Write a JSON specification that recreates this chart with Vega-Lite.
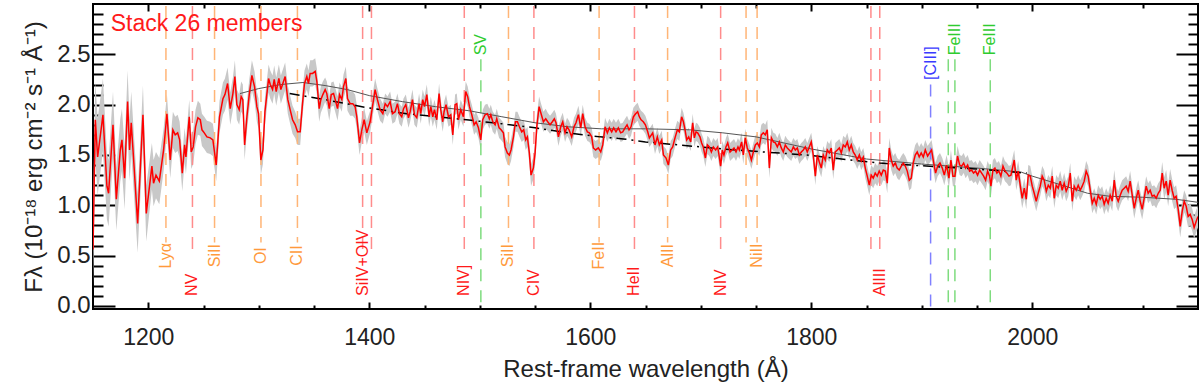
{
  "$schema": "https://vega.github.io/schema/vega-lite/v6.json",
  "width": 1105,
  "height": 305,
  "autosize": {"type": "none"},
  "padding": {"left": 93, "top": 4, "right": 2, "bottom": 73},
  "background": "white",
  "config": {"view": {"stroke": "#000", "strokeWidth": 2}, "axis": {"grid": false}},
  "resolve": {"axis": {"x": "independent", "y": "independent"}},
  "datasets": {
    "spec": [
      {"lam":1150.0,"f":0.56,"e":0.38},{"lam":1152.1,"f":1.85,"e":0.38},{"lam":1154.2,"f":1.48,"e":0.38},{"lam":1159.0,"f":1.90,"e":0.36},
      {"lam":1162.6,"f":1.19,"e":0.33},{"lam":1164.1,"f":1.12,"e":0.33},{"lam":1168.1,"f":1.80,"e":0.33},{"lam":1171.1,"f":1.06,"e":0.31},
      {"lam":1174.7,"f":1.55,"e":0.31},{"lam":1176.2,"f":1.65,"e":0.31},{"lam":1178.6,"f":1.27,"e":0.31},{"lam":1181.3,"f":2.03,"e":0.31},
      {"lam":1183.1,"f":1.55,"e":0.31},{"lam":1184.6,"f":1.82,"e":0.31},{"lam":1186.8,"f":1.45,"e":0.30},{"lam":1190.4,"f":0.82,"e":0.29},
      {"lam":1195.2,"f":1.90,"e":0.29},{"lam":1198.2,"f":0.92,"e":0.28},{"lam":1203.3,"f":1.39,"e":0.23},{"lam":1204.8,"f":1.22,"e":0.23},
      {"lam":1207.0,"f":1.30,"e":0.23},{"lam":1210.0,"f":1.24,"e":0.23},{"lam":1213.9,"f":1.55,"e":0.21},{"lam":1216.9,"f":1.91,"e":0.19},
      {"lam":1219.9,"f":1.45,"e":0.18},{"lam":1222.3,"f":1.75,"e":0.18},{"lam":1224.4,"f":1.70,"e":0.18},{"lam":1226.6,"f":1.72,"e":0.18},
      {"lam":1228.4,"f":1.65,"e":0.18},{"lam":1230.8,"f":1.32,"e":0.18},{"lam":1232.9,"f":1.60,"e":0.17},{"lam":1234.1,"f":1.48,"e":0.17},
      {"lam":1237.1,"f":1.88,"e":0.17},{"lam":1238.9,"f":1.53,"e":0.17},{"lam":1240.7,"f":1.58,"e":0.17},{"lam":1242.8,"f":1.78,"e":0.17},
      {"lam":1244.9,"f":1.87,"e":0.17},{"lam":1247.1,"f":1.85,"e":0.16},{"lam":1248.6,"f":1.75,"e":0.16},{"lam":1250.7,"f":1.72,"e":0.16},
      {"lam":1253.1,"f":1.68,"e":0.16},{"lam":1256.1,"f":1.67,"e":0.16},{"lam":1258.5,"f":1.65,"e":0.16},{"lam":1261.5,"f":1.40,"e":0.16},
      {"lam":1264.5,"f":1.88,"e":0.16},{"lam":1267.6,"f":2.06,"e":0.16},{"lam":1269.4,"f":2.10,"e":0.16},{"lam":1271.8,"f":2.21,"e":0.16},
      {"lam":1274.2,"f":1.96,"e":0.16},{"lam":1276.6,"f":2.11,"e":0.16},{"lam":1278.4,"f":2.28,"e":0.16},{"lam":1280.2,"f":2.00,"e":0.15},
      {"lam":1282.3,"f":1.95,"e":0.15},{"lam":1284.1,"f":2.08,"e":0.15},{"lam":1285.6,"f":2.05,"e":0.15},{"lam":1287.2,"f":1.60,"e":0.15},
      {"lam":1289.3,"f":1.88,"e":0.15},{"lam":1291.4,"f":2.10,"e":0.15},{"lam":1293.8,"f":2.29,"e":0.15},{"lam":1296.2,"f":2.18,"e":0.15},
      {"lam":1298.3,"f":1.98,"e":0.15},{"lam":1299.8,"f":1.91,"e":0.15},{"lam":1301.9,"f":1.45,"e":0.15},{"lam":1303.8,"f":1.55,"e":0.14},
      {"lam":1305.6,"f":1.93,"e":0.14},{"lam":1307.4,"f":2.11,"e":0.14},{"lam":1308.9,"f":2.26,"e":0.14},{"lam":1310.4,"f":2.20,"e":0.14},
      {"lam":1312.5,"f":2.15,"e":0.14},{"lam":1314.0,"f":2.25,"e":0.14},{"lam":1315.8,"f":2.13,"e":0.14},{"lam":1318.2,"f":2.26,"e":0.14},
      {"lam":1320.0,"f":2.15,"e":0.14},{"lam":1322.4,"f":2.23,"e":0.14},{"lam":1323.9,"f":2.28,"e":0.14},{"lam":1326.3,"f":2.05,"e":0.14},
      {"lam":1328.4,"f":1.95,"e":0.14},{"lam":1330.6,"f":1.85,"e":0.14},{"lam":1333.0,"f":1.80,"e":0.13},{"lam":1335.1,"f":1.73,"e":0.13},
      {"lam":1337.5,"f":1.73,"e":0.13},{"lam":1339.6,"f":2.01,"e":0.13},{"lam":1341.4,"f":2.21,"e":0.13},{"lam":1343.5,"f":2.28,"e":0.13},
      {"lam":1345.0,"f":2.21,"e":0.13},{"lam":1346.5,"f":2.31,"e":0.13},{"lam":1348.7,"f":2.31,"e":0.13},{"lam":1351.1,"f":2.33,"e":0.13},
      {"lam":1352.6,"f":2.23,"e":0.13},{"lam":1354.7,"f":1.96,"e":0.13},{"lam":1356.2,"f":2.05,"e":0.13},{"lam":1358.0,"f":2.10,"e":0.13},
      {"lam":1360.1,"f":2.15,"e":0.12},{"lam":1361.6,"f":2.11,"e":0.12},{"lam":1363.8,"f":1.96,"e":0.12},{"lam":1365.6,"f":2.10,"e":0.12},
      {"lam":1367.7,"f":2.11,"e":0.12},{"lam":1369.2,"f":2.05,"e":0.12},{"lam":1371.3,"f":1.96,"e":0.12},{"lam":1373.1,"f":2.10,"e":0.12},
      {"lam":1375.2,"f":2.05,"e":0.12},{"lam":1376.7,"f":2.18,"e":0.12},{"lam":1378.8,"f":2.26,"e":0.12},{"lam":1380.3,"f":2.06,"e":0.12},
      {"lam":1382.7,"f":2.01,"e":0.12},{"lam":1385.1,"f":2.01,"e":0.12},{"lam":1387.2,"f":1.98,"e":0.12},{"lam":1388.7,"f":1.88,"e":0.12},
      {"lam":1391.2,"f":1.62,"e":0.12},{"lam":1393.3,"f":1.75,"e":0.12},{"lam":1395.4,"f":1.85,"e":0.12},{"lam":1397.8,"f":1.72,"e":0.12},
      {"lam":1400.8,"f":1.83,"e":0.11},{"lam":1405.3,"f":2.15,"e":0.11},{"lam":1407.4,"f":2.05,"e":0.11},{"lam":1409.8,"f":1.95,"e":0.11},
      {"lam":1412.3,"f":1.91,"e":0.10},{"lam":1414.4,"f":2.01,"e":0.10},{"lam":1416.5,"f":1.98,"e":0.10},{"lam":1418.9,"f":2.03,"e":0.10},
      {"lam":1421.0,"f":1.91,"e":0.10},{"lam":1423.4,"f":1.93,"e":0.10},{"lam":1425.5,"f":2.01,"e":0.10},{"lam":1427.3,"f":1.91,"e":0.10},
      {"lam":1429.4,"f":1.88,"e":0.10},{"lam":1431.0,"f":1.96,"e":0.10},{"lam":1433.1,"f":2.00,"e":0.10},{"lam":1435.5,"f":1.87,"e":0.10},
      {"lam":1437.0,"f":1.93,"e":0.10},{"lam":1439.1,"f":2.05,"e":0.10},{"lam":1440.9,"f":1.90,"e":0.10},{"lam":1443.0,"f":1.87,"e":0.10},
      {"lam":1445.1,"f":2.01,"e":0.10},{"lam":1446.6,"f":1.91,"e":0.10},{"lam":1448.4,"f":2.05,"e":0.10},{"lam":1450.0,"f":1.98,"e":0.10},
      {"lam":1452.1,"f":2.10,"e":0.10},{"lam":1454.2,"f":1.88,"e":0.10},{"lam":1455.7,"f":1.98,"e":0.10},{"lam":1457.5,"f":1.88,"e":0.10},
      {"lam":1459.0,"f":1.95,"e":0.10},{"lam":1461.1,"f":1.85,"e":0.10},{"lam":1463.2,"f":2.11,"e":0.10},{"lam":1464.7,"f":1.95,"e":0.10},
      {"lam":1466.5,"f":1.83,"e":0.10},{"lam":1467.7,"f":1.93,"e":0.10},{"lam":1469.5,"f":2.00,"e":0.10},{"lam":1471.7,"f":1.88,"e":0.10},
      {"lam":1473.8,"f":1.90,"e":0.10},{"lam":1475.6,"f":1.70,"e":0.10},{"lam":1477.7,"f":2.00,"e":0.10},{"lam":1479.2,"f":2.01,"e":0.10},
      {"lam":1480.7,"f":1.85,"e":0.10},{"lam":1482.8,"f":1.95,"e":0.10},{"lam":1485.2,"f":1.88,"e":0.10},{"lam":1487.3,"f":2.13,"e":0.10},
      {"lam":1489.1,"f":2.08,"e":0.10},{"lam":1490.7,"f":1.98,"e":0.10},{"lam":1492.8,"f":1.90,"e":0.10},{"lam":1494.9,"f":1.80,"e":0.10},
      {"lam":1496.7,"f":1.83,"e":0.10},{"lam":1498.8,"f":1.77,"e":0.10},{"lam":1500.9,"f":1.65,"e":0.10},{"lam":1502.7,"f":1.85,"e":0.10},
      {"lam":1504.8,"f":1.90,"e":0.10},{"lam":1506.9,"f":1.91,"e":0.10},{"lam":1508.7,"f":1.86,"e":0.10},{"lam":1510.0,"f":1.90,"e":0.10},
      {"lam":1511.8,"f":1.83,"e":0.10},{"lam":1513.9,"f":1.80,"e":0.10},{"lam":1515.4,"f":1.86,"e":0.10},{"lam":1517.5,"f":1.77,"e":0.10},
      {"lam":1519.3,"f":1.75,"e":0.10},{"lam":1521.4,"f":1.72,"e":0.10},{"lam":1522.9,"f":1.58,"e":0.10},{"lam":1525.0,"f":1.52,"e":0.11},
      {"lam":1526.8,"f":1.50,"e":0.11},{"lam":1528.3,"f":1.55,"e":0.11},{"lam":1530.5,"f":1.68,"e":0.10},{"lam":1532.3,"f":1.83,"e":0.10},
      {"lam":1534.1,"f":1.83,"e":0.10},{"lam":1535.9,"f":1.78,"e":0.10},{"lam":1538.0,"f":1.73,"e":0.10},{"lam":1539.8,"f":1.75,"e":0.10},
      {"lam":1541.6,"f":1.65,"e":0.10},{"lam":1543.1,"f":1.68,"e":0.10},{"lam":1544.9,"f":1.52,"e":0.11},{"lam":1546.4,"f":1.30,"e":0.11},
      {"lam":1548.5,"f":1.37,"e":0.11},{"lam":1550.1,"f":1.52,"e":0.11},{"lam":1551.6,"f":1.78,"e":0.11},{"lam":1553.7,"f":1.98,"e":0.10},
      {"lam":1555.5,"f":1.91,"e":0.10},{"lam":1557.6,"f":1.83,"e":0.10},{"lam":1559.7,"f":1.86,"e":0.10},{"lam":1561.5,"f":1.83,"e":0.09},
      {"lam":1563.6,"f":1.80,"e":0.09},{"lam":1565.7,"f":1.83,"e":0.09},{"lam":1567.5,"f":1.86,"e":0.09},{"lam":1569.0,"f":1.82,"e":0.09},
      {"lam":1571.2,"f":1.68,"e":0.09},{"lam":1573.3,"f":1.78,"e":0.09},{"lam":1575.1,"f":1.83,"e":0.09},{"lam":1577.2,"f":1.72,"e":0.09},
      {"lam":1579.0,"f":1.78,"e":0.09},{"lam":1580.8,"f":1.75,"e":0.09},{"lam":1583.2,"f":1.68,"e":0.09},{"lam":1585.3,"f":1.78,"e":0.09},
      {"lam":1587.1,"f":1.82,"e":0.09},{"lam":1589.3,"f":1.90,"e":0.09},{"lam":1591.4,"f":1.77,"e":0.09},{"lam":1593.2,"f":1.91,"e":0.09},
      {"lam":1595.3,"f":1.78,"e":0.09},{"lam":1597.4,"f":1.73,"e":0.09},{"lam":1599.2,"f":1.72,"e":0.09},{"lam":1601.3,"f":1.68,"e":0.09},
      {"lam":1602.8,"f":1.57,"e":0.09},{"lam":1604.9,"f":1.55,"e":0.09},{"lam":1607.3,"f":1.57,"e":0.09},{"lam":1609.5,"f":1.53,"e":0.09},
      {"lam":1611.3,"f":1.60,"e":0.09},{"lam":1613.4,"f":1.78,"e":0.09},{"lam":1615.5,"f":1.72,"e":0.09},{"lam":1617.3,"f":1.77,"e":0.09},
      {"lam":1619.4,"f":1.73,"e":0.09},{"lam":1621.2,"f":1.77,"e":0.09},{"lam":1623.3,"f":1.73,"e":0.09},{"lam":1625.4,"f":1.77,"e":0.09},
      {"lam":1627.5,"f":1.72,"e":0.09},{"lam":1629.4,"f":1.73,"e":0.09},{"lam":1631.5,"f":1.77,"e":0.09},{"lam":1633.3,"f":1.80,"e":0.09},
      {"lam":1635.1,"f":1.75,"e":0.09},{"lam":1636.9,"f":1.78,"e":0.09},{"lam":1639.0,"f":1.88,"e":0.09},{"lam":1641.1,"f":1.91,"e":0.09},
      {"lam":1642.9,"f":1.93,"e":0.09},{"lam":1644.4,"f":1.88,"e":0.09},{"lam":1646.0,"f":1.85,"e":0.09},{"lam":1648.0,"f":1.83,"e":0.09},
      {"lam":1649.9,"f":1.80,"e":0.09},{"lam":1652.0,"f":1.73,"e":0.09},{"lam":1653.5,"f":1.67,"e":0.09},
      {"lam":1656.5,"f":1.72,"e":0.09},{"lam":1658.6,"f":1.60,"e":0.09},{"lam":1660.7,"f":1.68,"e":0.09},{"lam":1662.5,"f":1.60,"e":0.09},
      {"lam":1664.7,"f":1.65,"e":0.09},{"lam":1666.2,"f":1.50,"e":0.09},{"lam":1668.6,"f":1.47,"e":0.09},{"lam":1670.7,"f":1.40,"e":0.09},
      {"lam":1672.8,"f":1.55,"e":0.09},{"lam":1674.6,"f":1.58,"e":0.09},{"lam":1676.7,"f":1.67,"e":0.09},{"lam":1678.8,"f":1.75,"e":0.09},
      {"lam":1680.6,"f":1.73,"e":0.09},{"lam":1682.7,"f":1.88,"e":0.09},{"lam":1684.3,"f":1.83,"e":0.09},{"lam":1685.8,"f":1.75,"e":0.09},
      {"lam":1687.3,"f":1.65,"e":0.09},{"lam":1689.1,"f":1.68,"e":0.09},{"lam":1690.9,"f":1.63,"e":0.09},{"lam":1692.7,"f":1.82,"e":0.09},
      {"lam":1694.2,"f":1.67,"e":0.09},{"lam":1695.7,"f":1.73,"e":0.09},{"lam":1697.2,"f":1.72,"e":0.09},{"lam":1699.3,"f":1.68,"e":0.09},
      {"lam":1700.8,"f":1.62,"e":0.09},{"lam":1702.3,"f":1.58,"e":0.09},{"lam":1704.2,"f":1.47,"e":0.09},{"lam":1706.0,"f":1.60,"e":0.09},
      {"lam":1707.8,"f":1.58,"e":0.09},{"lam":1709.6,"f":1.53,"e":0.09},{"lam":1711.4,"f":1.58,"e":0.09},{"lam":1713.5,"f":1.55,"e":0.09},
      {"lam":1715.3,"f":1.58,"e":0.09},{"lam":1716.8,"f":1.48,"e":0.09},{"lam":1718.0,"f":1.39,"e":0.09},{"lam":1719.5,"f":1.55,"e":0.09},
      {"lam":1721.0,"f":1.50,"e":0.09},{"lam":1722.8,"f":1.58,"e":0.09},{"lam":1724.4,"f":1.62,"e":0.09},{"lam":1726.5,"f":1.53,"e":0.09},
      {"lam":1728.3,"f":1.55,"e":0.09},{"lam":1730.1,"f":1.57,"e":0.09},{"lam":1731.9,"f":1.53,"e":0.09},{"lam":1733.7,"f":1.58,"e":0.09},
      {"lam":1734.9,"f":1.55,"e":0.09},{"lam":1737.0,"f":1.63,"e":0.09},{"lam":1738.5,"f":1.50,"e":0.09},{"lam":1740.3,"f":1.67,"e":0.09},
      {"lam":1742.1,"f":1.57,"e":0.09},{"lam":1744.0,"f":1.52,"e":0.09},{"lam":1745.8,"f":1.45,"e":0.09},{"lam":1747.6,"f":1.53,"e":0.09},
      {"lam":1749.4,"f":1.60,"e":0.09},{"lam":1751.2,"f":1.62,"e":0.09},{"lam":1753.0,"f":1.58,"e":0.09},{"lam":1754.8,"f":1.70,"e":0.10},
      {"lam":1756.6,"f":1.72,"e":0.10},{"lam":1758.4,"f":1.70,"e":0.10},{"lam":1760.2,"f":1.75,"e":0.10},{"lam":1762.1,"f":1.37,"e":0.10},
      {"lam":1763.9,"f":1.67,"e":0.10},{"lam":1765.7,"f":1.63,"e":0.09},{"lam":1767.5,"f":1.62,"e":0.09},{"lam":1769.3,"f":1.58,"e":0.09},
      {"lam":1771.1,"f":1.63,"e":0.09},{"lam":1772.9,"f":1.57,"e":0.09},{"lam":1774.7,"f":1.53,"e":0.09},{"lam":1776.5,"f":1.60,"e":0.09},
      {"lam":1778.3,"f":1.57,"e":0.09},{"lam":1780.1,"f":1.55,"e":0.09},{"lam":1781.9,"f":1.53,"e":0.09},{"lam":1783.8,"f":1.58,"e":0.09},
      {"lam":1785.6,"f":1.55,"e":0.09},{"lam":1787.4,"f":1.57,"e":0.09},{"lam":1789.2,"f":1.50,"e":0.09},{"lam":1791.0,"f":1.53,"e":0.09},
      {"lam":1792.8,"f":1.55,"e":0.09},{"lam":1794.6,"f":1.58,"e":0.09},{"lam":1796.4,"f":1.53,"e":0.09},{"lam":1798.2,"f":1.58,"e":0.09},
      {"lam":1800.0,"f":1.63,"e":0.09},{"lam":1801.8,"f":1.50,"e":0.09},{"lam":1803.7,"f":1.29,"e":0.09},{"lam":1805.5,"f":1.50,"e":0.09},
      {"lam":1807.3,"f":1.43,"e":0.09},{"lam":1809.1,"f":1.37,"e":0.09},{"lam":1810.9,"f":1.50,"e":0.09},{"lam":1812.7,"f":1.45,"e":0.09},
      {"lam":1814.5,"f":1.55,"e":0.09},{"lam":1816.3,"f":1.52,"e":0.09},{"lam":1818.1,"f":1.57,"e":0.09},{"lam":1819.9,"f":1.35,"e":0.09},
      {"lam":1821.7,"f":1.53,"e":0.09},{"lam":1823.6,"f":1.55,"e":0.09},{"lam":1825.4,"f":1.57,"e":0.09},{"lam":1827.2,"f":1.52,"e":0.09},
      {"lam":1829.0,"f":1.60,"e":0.09},{"lam":1830.8,"f":1.58,"e":0.09},{"lam":1832.6,"f":1.63,"e":0.09},{"lam":1834.4,"f":1.55,"e":0.09},
      {"lam":1836.2,"f":1.60,"e":0.09},{"lam":1838.0,"f":1.53,"e":0.09},{"lam":1839.8,"f":1.50,"e":0.09},{"lam":1841.6,"f":1.45,"e":0.09},
      {"lam":1843.5,"f":1.50,"e":0.09},{"lam":1845.3,"f":1.44,"e":0.09},{"lam":1847.1,"f":1.48,"e":0.09},{"lam":1848.9,"f":1.37,"e":0.10},
      {"lam":1850.7,"f":1.29,"e":0.10},{"lam":1852.5,"f":1.20,"e":0.10},{"lam":1854.3,"f":1.30,"e":0.10},{"lam":1856.1,"f":1.27,"e":0.10},
      {"lam":1857.9,"f":1.32,"e":0.10},{"lam":1859.7,"f":1.29,"e":0.10},{"lam":1861.5,"f":1.34,"e":0.10},{"lam":1863.4,"f":1.30,"e":0.10},
      {"lam":1865.2,"f":1.35,"e":0.10},{"lam":1867.0,"f":1.34,"e":0.10},{"lam":1868.8,"f":1.22,"e":0.10},{"lam":1870.6,"f":1.57,"e":0.10},
      {"lam":1872.4,"f":1.45,"e":0.10},{"lam":1874.2,"f":1.39,"e":0.10},{"lam":1876.0,"f":1.42,"e":0.10},{"lam":1877.8,"f":1.37,"e":0.10},
      {"lam":1879.6,"f":1.35,"e":0.10},{"lam":1881.5,"f":1.39,"e":0.10},{"lam":1883.3,"f":1.42,"e":0.10},{"lam":1885.1,"f":1.39,"e":0.10},
      {"lam":1886.9,"f":1.34,"e":0.10},{"lam":1888.7,"f":1.25,"e":0.10},{"lam":1890.5,"f":1.27,"e":0.10},{"lam":1892.3,"f":1.42,"e":0.10},
      {"lam":1894.1,"f":1.50,"e":0.10},{"lam":1895.9,"f":1.53,"e":0.10},{"lam":1897.7,"f":1.48,"e":0.10},{"lam":1899.5,"f":1.52,"e":0.10},
      {"lam":1901.4,"f":1.48,"e":0.10},{"lam":1903.2,"f":1.55,"e":0.10},{"lam":1905.3,"f":1.49,"e":0.10},{"lam":1908.9,"f":1.55,"e":0.10},
      {"lam":1910.4,"f":1.45,"e":0.10},{"lam":1912.5,"f":1.32,"e":0.10},{"lam":1914.4,"f":1.39,"e":0.10},{"lam":1916.5,"f":1.42,"e":0.10},
      {"lam":1918.6,"f":1.37,"e":0.10},{"lam":1920.4,"f":1.30,"e":0.10},{"lam":1922.5,"f":1.40,"e":0.10},{"lam":1924.6,"f":1.27,"e":0.10},
      {"lam":1926.4,"f":1.45,"e":0.10},{"lam":1928.2,"f":1.29,"e":0.10},{"lam":1930.0,"f":1.29,"e":0.10},{"lam":1932.4,"f":1.49,"e":0.10},
      {"lam":1934.3,"f":1.40,"e":0.10},{"lam":1936.1,"f":1.39,"e":0.10},{"lam":1937.9,"f":1.42,"e":0.10},{"lam":1939.7,"f":1.37,"e":0.10},
      {"lam":1941.5,"f":1.40,"e":0.10},{"lam":1943.3,"f":1.34,"e":0.10},{"lam":1945.1,"f":1.35,"e":0.10},{"lam":1946.9,"f":1.32,"e":0.10},
      {"lam":1948.7,"f":1.34,"e":0.10},{"lam":1950.5,"f":1.30,"e":0.10},{"lam":1952.4,"f":1.35,"e":0.10},{"lam":1954.2,"f":1.32,"e":0.10},
      {"lam":1956.0,"f":1.29,"e":0.10},{"lam":1957.8,"f":1.25,"e":0.10},{"lam":1959.6,"f":1.34,"e":0.10},{"lam":1961.4,"f":1.29,"e":0.10},
      {"lam":1962.6,"f":1.19,"e":0.10},{"lam":1964.4,"f":1.35,"e":0.10},{"lam":1966.2,"f":1.37,"e":0.10},{"lam":1968.0,"f":1.32,"e":0.10},
      {"lam":1969.8,"f":1.34,"e":0.10},{"lam":1971.6,"f":1.29,"e":0.10},{"lam":1973.5,"f":1.39,"e":0.10},{"lam":1975.3,"f":1.34,"e":0.10},
      {"lam":1977.1,"f":1.32,"e":0.10},{"lam":1978.9,"f":1.29,"e":0.10},{"lam":1980.7,"f":1.30,"e":0.10},{"lam":1983.7,"f":1.45,"e":0.10},
      {"lam":1985.5,"f":1.25,"e":0.10},{"lam":1987.3,"f":1.34,"e":0.10},{"lam":1989.1,"f":1.20,"e":0.10},{"lam":1990.9,"f":1.07,"e":0.10},
      {"lam":1992.8,"f":1.17,"e":0.10},{"lam":1994.6,"f":1.06,"e":0.10},{"lam":1996.4,"f":1.30,"e":0.10},{"lam":1998.2,"f":1.29,"e":0.10},
      {"lam":2000.0,"f":1.19,"e":0.10},{"lam":2001.8,"f":1.12,"e":0.10},{"lam":2003.6,"f":1.04,"e":0.10},{"lam":2005.4,"f":1.12,"e":0.10},
      {"lam":2007.2,"f":1.19,"e":0.10},{"lam":2009.0,"f":1.29,"e":0.10},{"lam":2010.8,"f":1.25,"e":0.10},{"lam":2012.7,"f":1.14,"e":0.10},
      {"lam":2014.5,"f":1.20,"e":0.10},{"lam":2016.3,"f":1.17,"e":0.10},{"lam":2018.1,"f":1.29,"e":0.10},{"lam":2019.9,"f":1.07,"e":0.10},
      {"lam":2021.7,"f":1.20,"e":0.10},{"lam":2023.5,"f":1.17,"e":0.10},{"lam":2025.3,"f":1.24,"e":0.10},{"lam":2027.1,"f":1.15,"e":0.10},
      {"lam":2028.9,"f":1.22,"e":0.10},{"lam":2030.7,"f":1.14,"e":0.10},{"lam":2032.6,"f":1.19,"e":0.10},{"lam":2034.4,"f":1.32,"e":0.10},
      {"lam":2036.2,"f":1.04,"e":0.10},{"lam":2038.0,"f":1.19,"e":0.10},{"lam":2039.8,"f":1.15,"e":0.10},{"lam":2041.6,"f":1.20,"e":0.10},
      {"lam":2043.4,"f":1.15,"e":0.10},{"lam":2045.2,"f":1.19,"e":0.10},{"lam":2047.0,"f":1.24,"e":0.10},{"lam":2048.8,"f":1.34,"e":0.10},
      {"lam":2050.6,"f":1.29,"e":0.10},{"lam":2052.5,"f":1.15,"e":0.10},{"lam":2054.3,"f":1.02,"e":0.10},{"lam":2056.1,"f":1.07,"e":0.10},
      {"lam":2057.9,"f":1.01,"e":0.10},{"lam":2059.7,"f":1.10,"e":0.10},{"lam":2061.5,"f":1.06,"e":0.10},{"lam":2063.3,"f":1.09,"e":0.10},
      {"lam":2065.1,"f":1.01,"e":0.10},{"lam":2066.9,"f":1.07,"e":0.10},{"lam":2068.7,"f":1.02,"e":0.10},{"lam":2070.5,"f":1.10,"e":0.10},
      {"lam":2072.4,"f":1.04,"e":0.10},{"lam":2074.2,"f":1.25,"e":0.10},{"lam":2076.0,"f":1.09,"e":0.10},{"lam":2077.8,"f":1.04,"e":0.10},
      {"lam":2079.6,"f":1.10,"e":0.10},{"lam":2081.4,"f":1.15,"e":0.10},{"lam":2083.2,"f":1.17,"e":0.10},{"lam":2085.0,"f":1.19,"e":0.10},
      {"lam":2086.8,"f":1.14,"e":0.10},{"lam":2088.6,"f":1.24,"e":0.10},{"lam":2090.5,"f":1.10,"e":0.10},{"lam":2092.3,"f":0.97,"e":0.10},
      {"lam":2094.1,"f":1.07,"e":0.10},{"lam":2095.9,"f":1.15,"e":0.10},{"lam":2097.7,"f":1.04,"e":0.10},{"lam":2099.5,"f":0.96,"e":0.10},
      {"lam":2101.3,"f":1.07,"e":0.10},{"lam":2103.1,"f":1.19,"e":0.10},{"lam":2104.9,"f":1.12,"e":0.10},{"lam":2106.7,"f":1.15,"e":0.10},
      {"lam":2108.5,"f":1.09,"e":0.10},{"lam":2110.3,"f":1.10,"e":0.10},{"lam":2112.2,"f":1.07,"e":0.10},{"lam":2114.0,"f":1.12,"e":0.10},
      {"lam":2115.8,"f":1.15,"e":0.10},{"lam":2117.6,"f":1.32,"e":0.11},{"lam":2119.4,"f":1.17,"e":0.11},{"lam":2121.2,"f":1.24,"e":0.11},
      {"lam":2123.0,"f":1.10,"e":0.11},{"lam":2124.8,"f":1.25,"e":0.11},{"lam":2126.6,"f":1.15,"e":0.11},{"lam":2128.4,"f":1.07,"e":0.11},
      {"lam":2130.2,"f":1.09,"e":0.11},{"lam":2132.1,"f":0.96,"e":0.11},{"lam":2133.9,"f":0.79,"e":0.11},{"lam":2135.7,"f":0.94,"e":0.11},
      {"lam":2137.5,"f":1.04,"e":0.11},{"lam":2139.3,"f":0.99,"e":0.11},{"lam":2141.1,"f":0.89,"e":0.11},{"lam":2142.9,"f":0.91,"e":0.11},
      {"lam":2144.7,"f":0.86,"e":0.11},{"lam":2146.5,"f":0.78,"e":0.11},{"lam":2148.3,"f":0.84,"e":0.11},{"lam":2150.0,"f":0.89,"e":0.11}
    ],
    "solid": [
      {"lam":1283,"c":2.11},{"lam":1300,"c":2.16},{"lam":1320,"c":2.20},{"lam":1340,"c":2.22},{"lam":1360,"c":2.19},{"lam":1380,"c":2.15},
      {"lam":1400,"c":2.09},{"lam":1430,"c":2.03},{"lam":1460,"c":1.98},{"lam":1490,"c":1.94},{"lam":1520,"c":1.88},{"lam":1550,"c":1.82},
      {"lam":1580,"c":1.78},{"lam":1610,"c":1.76},{"lam":1650,"c":1.76},{"lam":1690,"c":1.75},{"lam":1720,"c":1.72},{"lam":1750,"c":1.68},
      {"lam":1800,"c":1.56},{"lam":1850,"c":1.46},{"lam":1900,"c":1.41},{"lam":1950,"c":1.37},{"lam":1990,"c":1.33},{"lam":2000,"c":1.29},
      {"lam":2030,"c":1.19},{"lam":2050,"c":1.12},{"lam":2070,"c":1.09},{"lam":2100,"c":1.08},{"lam":2130,"c":1.06},{"lam":2150,"c":1.03}
    ],
    "dashed": [
      {"lam":1328,"c":2.11},{"lam":1360,"c":2.05},{"lam":1398,"c":1.97},{"lam":1434,"c":1.91},{"lam":1488,"c":1.85},{"lam":1520,"c":1.81},
      {"lam":1550,"c":1.77},{"lam":1580,"c":1.72},{"lam":1609,"c":1.68},{"lam":1630,"c":1.66},{"lam":1650,"c":1.63},{"lam":1670,"c":1.61},
      {"lam":1690,"c":1.59},{"lam":1720,"c":1.56},{"lam":1757,"c":1.53},{"lam":1796,"c":1.50},{"lam":1835,"c":1.45},{"lam":1862,"c":1.42},
      {"lam":1904,"c":1.39},{"lam":1950,"c":1.36},{"lam":1995,"c":1.32}
    ],
    "lines": [
      {"lam":1216,"ion":"Lyα","grp":"orange"},{"lam":1260,"ion":"SiII","grp":"orange"},{"lam":1302,"ion":"OI","grp":"orange"},
      {"lam":1335,"ion":"CII","grp":"orange"},{"lam":1526,"ion":"SiII","grp":"orange"},{"lam":1608,"ion":"FeII","grp":"orange"},
      {"lam":1670,"ion":"AlII","grp":"orange"},{"lam":1741,"ion":"","grp":"orange"},{"lam":1751,"ion":"NiII","grp":"orange"},
      {"lam":1240,"ion":"NV","grp":"red"},{"lam":1394,"ion":"SiIV+OIV","grp":"red"},{"lam":1402,"ion":"","grp":"red"},
      {"lam":1486,"ion":"NIV]","grp":"red"},{"lam":1549,"ion":"CIV","grp":"red"},{"lam":1640,"ion":"HeII","grp":"red"},
      {"lam":1718,"ion":"NIV","grp":"red"},{"lam":1854,"ion":"","grp":"red"},{"lam":1862,"ion":"AlIII","grp":"red"},
      {"lam":1501,"ion":"SV","grp":"green"},{"lam":1924,"ion":"","grp":"green"},{"lam":1930,"ion":"FeIII","grp":"green"},
      {"lam":1962,"ion":"FeIII","grp":"green"},{"lam":1908,"ion":"[CIII]","grp":"blue"}
    ]
  },
  "layer": [
    {
      "data": {"name": "spec"},
      "mark": {"type": "errorband", "band": {"color": "#c8c8c8", "opacity": 1, "clip": true}},
      "encoding": {
        "x": {"field": "lam", "type": "quantitative", "scale": {"domain": [1150, 2150], "nice": false, "zero": false},
          "axis": {"orient": "bottom", "values": [1200, 1400, 1600, 1800, 2000], "format": "d", "tickSize": -7, "tickWidth": 2, "tickColor": "#000",
            "domain": false, "grid": false, "labelPadding": 24, "labelFontSize": 23, "labelFont": "Liberation Sans", "labelColor": "#222",
            "labelFlush": false, "labelOverlap": false,
            "title": "Rest-frame wavelength (Å)", "titleFont": "Liberation Sans", "titleFontSize": 24, "titleFontWeight": "normal",
            "titleColor": "#222", "titlePadding": 8}},
        "y": {"field": "f", "type": "quantitative", "scale": {"domain": [-0.03, 3.0], "nice": false, "zero": false},
          "axis": {"orient": "left", "values": [0, 0.5, 1, 1.5, 2, 2.5], "format": ".1f", "tickSize": -22, "tickWidth": 2, "tickColor": "#000",
            "domain": false, "grid": false, "labelPadding": 25, "labelFontSize": 24, "labelFont": "Liberation Sans", "labelColor": "#222",
            "labelFlush": false, "labelOverlap": false,
            "title": "Fλ (10⁻¹⁸ erg cm⁻² s⁻¹ Å⁻¹)", "titleFont": "Liberation Sans", "titleFontSize": 24, "titleFontWeight": "normal",
            "titleColor": "#222", "titlePadding": 10}},
        "yError": {"field": "e"}
      }
    },
    {
      "data": {"name": "lines"},
      "transform": [{"filter": "datum.grp === 'orange'"}],
      "mark": {"type": "rule", "color": "#ffb577", "strokeWidth": 1.5, "strokeDash": [12, 9]},
      "encoding": {
        "x": {"field": "lam", "type": "quantitative", "scale": {"domain": [1150, 2150], "nice": false, "zero": false}, "axis": null},
        "y": {"datum": 2.98, "type": "quantitative", "scale": {"domain": [-0.03, 3.0], "nice": false, "zero": false}, "axis": null},
        "y2": {"datum": 0.63}
      }
    },
    {
      "data": {"name": "lines"},
      "transform": [{"filter": "datum.grp === 'red'"}],
      "mark": {"type": "rule", "color": "#ff8c8c", "strokeWidth": 1.5, "strokeDash": [12, 9]},
      "encoding": {
        "x": {"field": "lam", "type": "quantitative", "scale": {"domain": [1150, 2150], "nice": false, "zero": false}, "axis": null},
        "y": {"datum": 2.98, "type": "quantitative", "scale": {"domain": [-0.03, 3.0], "nice": false, "zero": false}, "axis": null},
        "y2": {"datum": 0.48}
      }
    },
    {
      "data": {"name": "lines"},
      "transform": [{"filter": "datum.grp === 'green'"}],
      "mark": {"type": "rule", "color": "#7fdc7f", "strokeWidth": 1.5, "strokeDash": [12, 9]},
      "encoding": {
        "x": {"field": "lam", "type": "quantitative", "scale": {"domain": [1150, 2150], "nice": false, "zero": false}, "axis": null},
        "y": {"datum": 2.45, "type": "quantitative", "scale": {"domain": [-0.03, 3.0], "nice": false, "zero": false}, "axis": null},
        "y2": {"datum": -0.03}
      }
    },
    {
      "data": {"name": "lines"},
      "transform": [{"filter": "datum.grp === 'blue'"}],
      "mark": {"type": "rule", "color": "#8080ff", "strokeWidth": 1.5, "strokeDash": [12, 9]},
      "encoding": {
        "x": {"field": "lam", "type": "quantitative", "scale": {"domain": [1150, 2150], "nice": false, "zero": false}, "axis": null},
        "y": {"datum": 2.2, "type": "quantitative", "scale": {"domain": [-0.03, 3.0], "nice": false, "zero": false}, "axis": null},
        "y2": {"datum": -0.03}
      }
    },
    {
      "data": {"name": "solid"},
      "mark": {"type": "line", "color": "#555555", "strokeWidth": 1, "clip": true},
      "encoding": {
        "x": {"field": "lam", "type": "quantitative", "scale": {"domain": [1150, 2150], "nice": false, "zero": false},
          "axis": {"orient": "top", "values": [1200, 1400, 1600, 1800, 2000], "tickSize": -7, "tickWidth": 2, "tickColor": "#000",
            "domain": false, "grid": false, "labels": false, "title": null}},
        "y": {"field": "c", "type": "quantitative", "scale": {"domain": [-0.03, 3.0], "nice": false, "zero": false},
          "axis": {"orient": "right", "values": [0, 0.5, 1, 1.5, 2, 2.5], "tickSize": -22, "tickWidth": 2, "tickColor": "#000",
            "domain": false, "grid": false, "labels": false, "title": null}}
      }
    },
    {
      "data": {"name": "dashed"},
      "mark": {"type": "line", "color": "#000000", "strokeWidth": 1.5, "strokeDash": [10, 5, 2, 5], "clip": true},
      "encoding": {
        "x": {"field": "lam", "type": "quantitative", "scale": {"domain": [1150, 2150], "nice": false, "zero": false},
          "axis": {"orient": "top", "values": [1250, 1300, 1350, 1450, 1500, 1550, 1650, 1700, 1750, 1850, 1900, 1950, 2050, 2100],
            "tickSize": -4, "tickWidth": 2, "tickColor": "#000", "domain": false, "grid": false, "labels": false, "title": null}},
        "y": {"field": "c", "type": "quantitative", "scale": {"domain": [-0.03, 3.0], "nice": false, "zero": false},
          "axis": {"orient": "right", "values": [0.1, 0.2, 0.3, 0.4, 0.6, 0.7, 0.8, 0.9, 1.1, 1.2, 1.3, 1.4, 1.6, 1.7, 1.8, 1.9, 2.1, 2.2, 2.3, 2.4, 2.6, 2.7, 2.8, 2.9],
            "tickSize": -10, "tickWidth": 2, "tickColor": "#000", "domain": false, "grid": false, "labels": false, "title": null}}
      }
    },
    {
      "data": {"name": "spec"},
      "mark": {"type": "line", "color": "#ff0000", "strokeWidth": 1.5, "clip": true},
      "encoding": {
        "x": {"field": "lam", "type": "quantitative", "scale": {"domain": [1150, 2150], "nice": false, "zero": false},
          "axis": {"orient": "bottom", "values": [1250, 1300, 1350, 1450, 1500, 1550, 1650, 1700, 1750, 1850, 1900, 1950, 2050, 2100],
            "tickSize": -4, "tickWidth": 2, "tickColor": "#000", "domain": false, "grid": false, "labels": false, "title": null}},
        "y": {"field": "f", "type": "quantitative", "scale": {"domain": [-0.03, 3.0], "nice": false, "zero": false},
          "axis": {"orient": "left", "values": [0.1, 0.2, 0.3, 0.4, 0.6, 0.7, 0.8, 0.9, 1.1, 1.2, 1.3, 1.4, 1.6, 1.7, 1.8, 1.9, 2.1, 2.2, 2.3, 2.4, 2.6, 2.7, 2.8, 2.9],
            "tickSize": -10, "tickWidth": 2, "tickColor": "#000", "domain": false, "grid": false, "labels": false, "title": null}}
      }
    },
    {
      "data": {"name": "lines"},
      "transform": [{"filter": "datum.grp === 'orange'"}],
      "mark": {"type": "text", "angle": 270, "align": "center", "baseline": "middle", "font": "Liberation Sans", "fontSize": 16, "color": "#ff9a3c"},
      "encoding": {
        "x": {"field": "lam", "type": "quantitative", "scale": {"domain": [1150, 2150], "nice": false, "zero": false}, "axis": null},
        "y": {"datum": 0.5, "type": "quantitative", "scale": {"domain": [-0.03, 3.0], "nice": false, "zero": false}, "axis": null},
        "text": {"field": "ion"}
      }
    },
    {
      "data": {"name": "lines"},
      "transform": [{"filter": "datum.grp === 'red'"}],
      "mark": {"type": "text", "angle": 270, "align": "left", "baseline": "middle", "font": "Liberation Sans", "fontSize": 16, "color": "#ff1a1a"},
      "encoding": {
        "x": {"field": "lam", "type": "quantitative", "scale": {"domain": [1150, 2150], "nice": false, "zero": false}, "axis": null},
        "y": {"datum": 0.1, "type": "quantitative", "scale": {"domain": [-0.03, 3.0], "nice": false, "zero": false}, "axis": null},
        "text": {"field": "ion"}
      }
    },
    {
      "data": {"name": "lines"},
      "transform": [{"filter": "datum.grp === 'green'"}],
      "mark": {"type": "text", "angle": 270, "align": "left", "baseline": "middle", "font": "Liberation Sans", "fontSize": 16, "color": "#2fcc2f"},
      "encoding": {
        "x": {"field": "lam", "type": "quantitative", "scale": {"domain": [1150, 2150], "nice": false, "zero": false}, "axis": null},
        "y": {"datum": 2.49, "type": "quantitative", "scale": {"domain": [-0.03, 3.0], "nice": false, "zero": false}, "axis": null},
        "text": {"field": "ion"}
      }
    },
    {
      "data": {"name": "lines"},
      "transform": [{"filter": "datum.grp === 'blue'"}],
      "mark": {"type": "text", "angle": 270, "align": "left", "baseline": "middle", "font": "Liberation Sans", "fontSize": 16, "color": "#3a3aff"},
      "encoding": {
        "x": {"field": "lam", "type": "quantitative", "scale": {"domain": [1150, 2150], "nice": false, "zero": false}, "axis": null},
        "y": {"datum": 2.245, "type": "quantitative", "scale": {"domain": [-0.03, 3.0], "nice": false, "zero": false}, "axis": null},
        "text": {"field": "ion"}
      }
    },
    {
      "data": {"values": [{}]},
      "mark": {"type": "text", "text": "Stack 26 members", "align": "left", "baseline": "middle", "font": "Liberation Sans", "fontSize": 23, "color": "#ff1a1a"},
      "encoding": {
        "x": {"datum": 1166, "type": "quantitative", "scale": {"domain": [1150, 2150], "nice": false, "zero": false}, "axis": null},
        "y": {"datum": 2.8, "type": "quantitative", "scale": {"domain": [-0.03, 3.0], "nice": false, "zero": false}, "axis": null}
      }
    }
  ]
}
